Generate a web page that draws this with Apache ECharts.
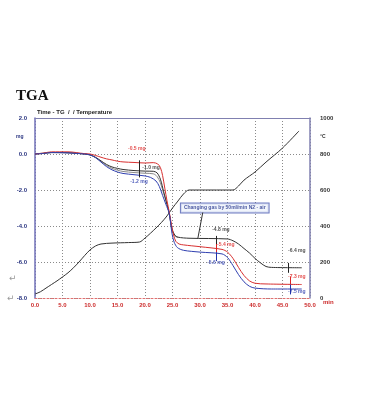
<!DOCTYPE html>
<html><head><meta charset="utf-8">
<script src="https://cdn.jsdelivr.net/npm/echarts@6/dist/echarts.min.js"></script>
<style>html,body{margin:0;padding:0;background:#fff}#c{width:374px;height:401px}</style>
</head><body><div id="c"></div>
<script>
// ---- data (time in min, mass change in mg, temperature in °C) ----
const xTicks = [0,5,10,15,20,25,30,35,40,45,50];
const massTicks = [-8,-6,-4,-2,0,2];
const tempTicks = [0,200,400,600,800,1000];

const tempCurve = [[0,22],[1,35],[2,55],[3,75],[4,95],[5,117],[6,140],[7,168],[8,200],[9,235],[10,267],[11,289],[12,300],[14,305],[17,308],[19,311],[20,333],[21,360],[22,389],[23,420],[24,456],[25,500],[26,539],[27,578],[28,600],[32,600],[36,600],[37,622],[38,655],[40,700],[42,755],[45,833],[48,928]];

const tgBlack = [[0,0],[1.5,0.03],[3,0.08],[6,0.07],[9,0],[10,-0.05],[11,-0.18],[12,-0.38],[13,-0.58],[14,-0.72],[15,-0.8],[16,-0.86],[18,-0.92],[20,-0.95],[21.5,-0.96],[22.2,-1.05],[22.8,-1.4],[23.4,-2.1],[24,-2.8],[24.4,-3.3],[24.9,-4.15],[25.4,-4.5],[26,-4.62],[28,-4.68],[35,-4.72],[36,-4.82],[37,-5.0],[38,-5.25],[39,-5.5],[40,-5.8],[41,-6.05],[42,-6.25],[43,-6.3],[48.5,-6.32]];
const tgGray = [[0,0],[3,0.08],[6,0.07],[9,0],[10,-0.05],[11,-0.2],[12,-0.42],[13,-0.64],[14,-0.8],[15,-0.9],[16,-0.97],[18,-1.03],[20,-1.07],[21.5,-1.1],[22.2,-1.25],[22.8,-1.6],[23.4,-2.2],[24,-2.8],[24.4,-3.3],[24.9,-4.2],[25.4,-4.55],[26,-4.65]];
const tgRed = [[0,0],[1.5,0.05],[3,0.12],[6,0.12],[9,0.02],[10,0],[11,-0.08],[12,-0.18],[13,-0.27],[14,-0.33],[15,-0.4],[16,-0.44],[18,-0.47],[20,-0.5],[21.5,-0.48],[22.3,-0.55],[22.8,-0.75],[23.2,-1.2],[23.6,-1.9],[24.0,-2.6],[24.4,-3.2],[24.8,-3.9],[25.2,-4.5],[25.6,-4.85],[26.2,-5.0],[27,-5.05],[30,-5.15],[34,-5.3],[35,-5.45],[36,-5.8],[37,-6.3],[38,-6.75],[39,-7.05],[40,-7.18],[42,-7.22],[48.5,-7.25]];
const tgBlue = [[0,0],[1.5,0.03],[3,0.08],[6,0.06],[9,0],[10,-0.05],[11,-0.2],[12,-0.45],[13,-0.7],[14,-0.88],[15,-1.0],[16,-1.08],[18,-1.15],[20,-1.22],[21,-1.3],[22,-1.5],[22.6,-1.8],[23.2,-2.3],[23.8,-2.8],[24.4,-3.3],[24.9,-4.4],[25.3,-4.9],[25.9,-5.2],[27,-5.35],[30,-5.45],[34,-5.55],[35,-5.75],[36,-6.2],[37,-6.7],[38,-7.1],[39,-7.35],[40,-7.45],[43,-7.5],[48.5,-7.5]];

// annotation labels: [time, mass, text, colour]
const noteTime  = [18.5, 21.1, 18.9, 33.8, 34.7, 32.9, 47.6, 47.6, 47.6];
const noteMass  = [0.28, -0.78, -1.56, -4.22, -5.06, -6.06, -5.39, -6.83, -7.67];
const noteText  = ['-0.5 mg','-1.0 mg','-1.2 mg','-4.8 mg','-5.4 mg','-5.6 mg','-6.4 mg','-7.3 mg','-7.5 mg'];
const noteColor = ['#d22','#222','#2233aa','#222','#d22','#2233aa','#222','#d22','#2233aa'];
// step marker segments: [time, fromMass, toMass, colour]
const stepMarks = [[18.9,-0.35,-1.3,'#222'],[33.0,-4.55,-5.0,'#222'],[33.0,-5.0,-5.45,'#d22'],[33.0,-5.45,-5.95,'#2233aa'],[46.0,-6.05,-6.6,'#222'],[46.4,-6.8,-7.25,'#d22'],[46.4,-7.25,-7.8,'#2233aa']];
const gasNote = {time:34.5, mass:-3.0, text:'Changing gas by 50ml/min N2 - air'};
const gasLeader = [[30.5,-3.25],[29.6,-4.7]];

const chart = echarts.init(document.getElementById('c'), null, {renderer:'canvas'});
const lbl = {fontSize:6, fontWeight:'bold', fontFamily:'Liberation Sans'};
const grid = {left:35, right:64, top:118, bottom:103};
const dotted = {show:true, lineStyle:{color:'#8a8a8a', type:[1,2], width:1}};

const markSeg = stepMarks.map(s => [{coord:[s[0],s[1]], lineStyle:{color:s[3]}},{coord:[s[0],s[2]]}]);
markSeg.push([{coord:gasLeader[0], lineStyle:{color:'#333'}},{coord:gasLeader[1]}]);

chart.setOption({
  backgroundColor:'#fff',
  animation:false,
  grid,
  xAxis:[{
    type:'value', min:0, max:50, interval:5, position:'bottom',
    axisLine:{show:true, onZero:false, lineStyle:{color:'#e07070', type:[2,2], width:1}},
    axisTick:{show:false},
    axisLabel:Object.assign({color:'#cc2a2a', margin:4, formatter:v=>v.toFixed(1)}, lbl),
    splitLine:dotted
  },{
    type:'value', min:0, max:50, position:'top',
    axisLine:{show:true, onZero:false, lineStyle:{color:'#8080b0', width:1}},
    axisTick:{show:false}, axisLabel:{show:false}, splitLine:{show:false}
  }],
  yAxis:[{
    type:'value', min:-8, max:2, interval:2, position:'left',
    axisLine:{show:true, onZero:false, lineStyle:{color:'#7070b8', width:1.5}},
    axisTick:{show:false},
    axisLabel:Object.assign({color:'#2a3580', margin:8, formatter:v=>v.toFixed(1)}, lbl),
    splitLine:dotted
  },{
    type:'value', min:0, max:1000, interval:200, position:'right',
    axisLine:{show:true, onZero:false, lineStyle:{color:'#8080b0', width:1.5}},
    axisTick:{show:false},
    axisLabel:Object.assign({color:'#333', margin:10, formatter:v=>String(v)}, lbl),
    splitLine:{show:false}
  }],
  series:[
    {name:'Temperature', type:'line', yAxisIndex:1, data:tempCurve, symbol:'none', smooth:0.3,
      lineStyle:{color:'#333', width:1}},
    {name:'TG gray', type:'line', data:tgGray, symbol:'none', smooth:0.3, lineStyle:{color:'#8a8a8a', width:1}},
    {name:'TG black', type:'line', data:tgBlack, symbol:'none', smooth:0.3, lineStyle:{color:'#333', width:1}},
    {name:'TG red', type:'line', data:tgRed, symbol:'none', smooth:0.3, lineStyle:{color:'#d83030', width:1}},
    {name:'TG blue', type:'line', data:tgBlue, symbol:'none', smooth:0.3, lineStyle:{color:'#3040b0', width:1},
      markLine:{silent:true, symbol:['none','none'], label:{show:false}, lineStyle:{width:1, type:'solid'}, data:markSeg}},
    {name:'notes', type:'scatter', symbolSize:0, silent:true,
      data: noteText.map((t,i)=>({value:[noteTime[i], noteMass[i]], name:t,
        label:{show:true, position:'inside', formatter:t, color:noteColor[i], fontSize:5, fontWeight:'bold', fontFamily:'Liberation Sans'}}))
        .concat([{value:[gasNote.time, gasNote.mass], name:'gas',
        label:{show:true, position:'inside', formatter:gasNote.text, color:'#1f2f8a', fontSize:5, fontWeight:'bold', fontFamily:'Liberation Sans',
          backgroundColor:'#eef2fb', borderColor:'#4a5ab0', borderWidth:1, padding:[2,3]}}])}
  ],
  graphic:[
    {type:'text', left:16, top:89, style:{text:'TGA', font:'bold 15px "Liberation Serif"', fill:'#111'}},
    {type:'text', left:37, top:109, style:{text:'Time - TG  /  / Temperature', font:'bold 6px "Liberation Sans"', fill:'#222'}},
    {type:'text', left:16, top:134, style:{text:'mg', font:'bold 5px "Liberation Sans"', fill:'#2a3580'}},
    {type:'text', left:320, top:134, style:{text:'°C', font:'bold 5px "Liberation Sans"', fill:'#333'}},
    {type:'text', left:323, top:299, style:{text:'min', font:'bold 6px "Liberation Sans"', fill:'#cc2a2a'}},
    {type:'text', left:9, top:274, style:{text:'↵', font:'9px "DejaVu Sans"', fill:'#999'}},
    {type:'text', left:7, top:294, style:{text:'↵', font:'9px "DejaVu Sans"', fill:'#999'}}
  ]
});
</script></body></html>
